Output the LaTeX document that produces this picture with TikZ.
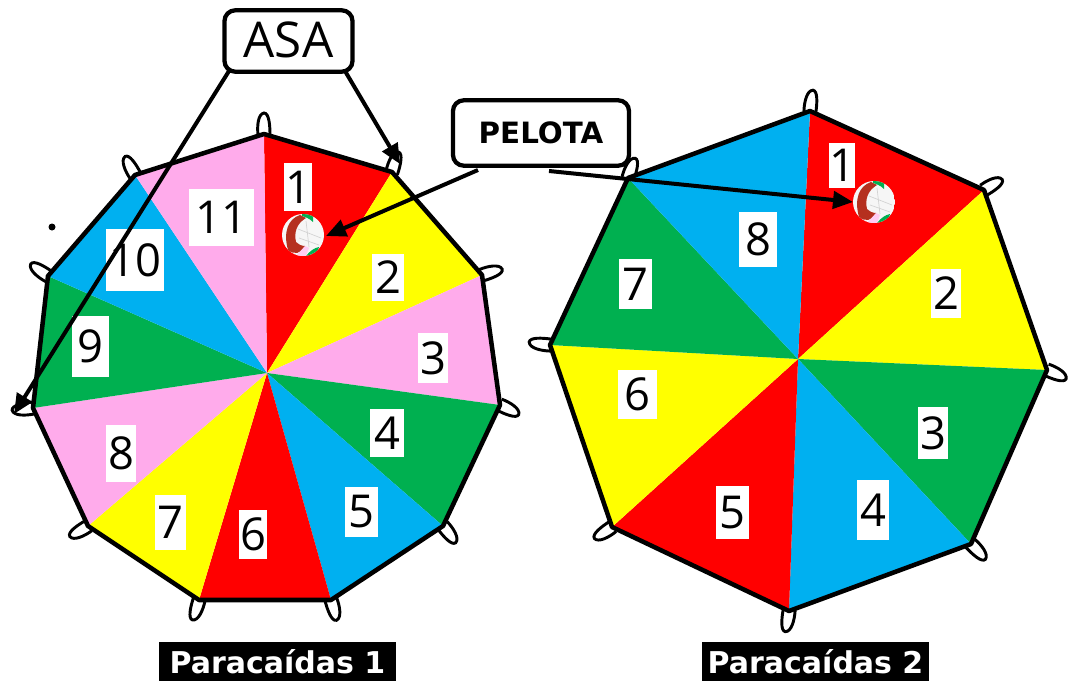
\documentclass[tikz,border=0pt]{standalone}
\usepackage{fontspec}
\setmainfont{Open Sans}
\newfontfamily\djb{DejaVu Sans}[BoldFont={DejaVu Sans Bold}]
\usetikzlibrary{arrows.meta}
\definecolor{cred}{HTML}{FF0000}
\definecolor{cyel}{HTML}{FFFF00}
\definecolor{cpink}{HTML}{FFABEB}
\definecolor{cgreen}{HTML}{00B050}
\definecolor{cblue}{HTML}{00B0F0}
\definecolor{cbrown}{HTML}{B5301F}
\tikzset{
  outline/.style={draw=black,line width=3.4pt,line join=round,fill=none},
  handle/.style={draw=black,line width=2.2pt,fill=white},
  numbox/.style={fill=white,inner sep=0pt,text=black,font=\fontsize{34}{40}\selectfont},
  callout/.style={draw=black,line width=3.2pt,fill=white,inner sep=0pt,rounded corners=8pt},
  caption/.style={fill=black,text=white,inner sep=0pt,font=\djb\bfseries\fontsize{22.5}{26}\selectfont},
  pointer/.style={draw=black,line width=3pt,-{Triangle[length=15pt,width=13pt]}},
  pics/ballpic/.style={code={
    \begin{scope}
      \clip (0,0) circle (21);
      \fill[white!93!gray] (-21,-21) rectangle (21,21);
      \fill[cbrown] (-3,-20) .. controls (-15,-16) and (-20,-3) .. (-15,15)
        .. controls (-9,20) and (-2,19) .. (2,11) .. controls (-2,11) and (-5,9) .. (-7,7)
        .. controls (-9,-2) and (-7,-11) .. (3,-17) -- cycle;
      \fill[cgreen] (-1,-21) -- (10,-21) -- (10,-13) .. controls (6,-17) and (2,-18) .. (-1,-19) -- cycle;
      \fill[cgreen] (3,21) -- (13,21) -- (16,12) .. controls (11,13) and (7,16) .. (3,21) -- cycle;
      \fill[cpink!60!white] (-7,21) -- (3,21) -- (6,13) -- (2,11) -- cycle;
      \draw[gray!35,line width=.5pt] (-5,-6) -- (18,3) (-4,3) -- (16,10) (3,-14) -- (6,12);
    \end{scope}
  }},
  pics/loopshape/.style={code={
    \draw[handle] (-1,-6) .. controls (8,-7) and (20,-6) .. (21,0) .. controls (21,5) and (9,6) .. (-1,6);
  }}
}
\newcommand{\numlab}[6]{\node[numbox,minimum width={(#4-#2)*0.75pt},minimum height={(#5-#3)*0.75pt}] (#1) at ({(#2+#4)/2},{(#3+#5)/2}) {#6};}
\begin{document}
\begin{tikzpicture}[x=0.75pt,y=-0.75pt]
\useasboundingbox (0,0) rectangle (1069,681);
% left parachute
\coordinate (LC) at (267,373);
\foreach \n/\x/\y in {1/264/134,2/392/172,3/482/275,4/500/405,5/443/526,6/331/600,7/199/600,8/88/526,9/33/408,10/48/276,11/135/175}
  \coordinate (L\n) at (\x,\y);
\foreach \n/\a in {1/90,2/72,3/16,4/333,5/307,6/285,7/252,8/210,9/186,10/145,11/118}
  \path (L\n) pic[rotate=\a] {loopshape};
\foreach \a/\b/\c in {1/2/cred,2/3/cyel,3/4/cpink,4/5/cgreen,5/6/cblue,6/7/cred,7/8/cyel,8/9/cpink,9/10/cgreen,10/11/cblue,11/1/cpink}
  \fill[\c] (LC) -- (L\a) -- (L\b) -- cycle;
\draw[outline] (L1)--(L2)--(L3)--(L4)--(L5)--(L6)--(L7)--(L8)--(L9)--(L10)--(L11)--cycle;
% right parachute
\coordinate (RC) at (798,359);
\coordinate (R1) at (810,111);
\coordinate (R2) at (984,190);
\coordinate (R3) at (1047,370);
\coordinate (R4) at (971,544);
\coordinate (R5) at (789,611);
\coordinate (R6) at (612,527);
\coordinate (R7) at (550,345);
\coordinate (R8) at (628,178);
\foreach \n/\a in {1/82,2/30,3/335,4/313,5/260,6/213,7/172,8/70}
  \path (R\n) pic[rotate=\a] {loopshape};
\foreach \a/\b/\c in {1/2/cred,2/3/cyel,3/4/cgreen,4/5/cblue,5/6/cred,6/7/cyel,7/8/cgreen,8/1/cblue}
  \fill[\c] (RC) -- (R\a) -- (R\b) -- cycle;
\draw[outline] (R1)--(R2)--(R3)--(R4)--(R5)--(R6)--(R7)--(R8)--cycle;
% number labels, left
\numlab{a1}{284}{163}{312}{211}{1}
\numlab{a2}{372}{254}{404}{301}{2}
\numlab{a3}{418}{333}{448}{383}{3}
\numlab{a4}{370}{409}{404}{457}{4}
\numlab{a5}{345}{487}{378}{537}{5}
\numlab{a6}{239}{510}{267}{559}{6}
\numlab{a7}{155}{495}{186}{550}{7}
\numlab{a8}{106}{425}{136}{482}{8}
\numlab{a9}{72}{316}{109}{377}{9}
\numlab{a10}{106}{229}{164}{291}{10}
\numlab{a11}{189}{189}{254}{246}{11}
% number labels, right
\numlab{b1}{829}{143}{855}{188}{1}
\numlab{b2}{931}{269}{961}{318}{2}
\numlab{b3}{918}{407}{948}{459}{3}
\numlab{b4}{857}{480}{889}{540}{4}
\numlab{b5}{716}{486}{749}{539}{5}
\numlab{b6}{618}{370}{657}{419}{6}
\numlab{b7}{619}{259}{652}{309}{7}
\numlab{b8}{739}{212}{777}{267}{8}
% balls
\coordinate (ballA) at (303,235);
\coordinate (ballB) at (874,202);
\path (ballA) pic {ballpic};
\path (ballB) pic {ballpic};
% stray dot
\fill[black] (52,227) circle (3.5);
% callouts
\node[callout,minimum width=96pt,minimum height=46pt,font=\fontsize{37}{42}\selectfont] (asa) at (288.5,41) {\raisebox{2pt}{ASA}};
\node[callout,minimum width=132pt,minimum height=49pt,font=\djb\bfseries\fontsize{22}{26}\selectfont] (pelota) at (541,133) {\raisebox{1pt}{PELOTA}};
% captions
\node[caption,minimum width=177.75pt,minimum height=29.25pt] (capA) at (277.5,661.5) {Paracaídas 1};
\node[caption,minimum width=170.25pt,minimum height=29.25pt] (capB) at (815.5,661.5) {Paracaídas 2};
% connector ends
\coordinate (asaL) at (229,71);
\coordinate (asaR) at (345,71);
\coordinate (tipL) at (14,414);
\coordinate (tipR) at (400,164);
\coordinate (pelL) at (478,170);
\coordinate (pelR) at (549,171);
\coordinate (tipA) at (326,236);
\coordinate (tipB) at (853,202);
\draw[pointer] (asaL) -- (tipL);
\draw[pointer] (asaR) -- (tipR);
\draw[pointer] (pelL) -- (tipA);
\draw[pointer] (pelR) -- (tipB);
\end{tikzpicture}
\end{document}
